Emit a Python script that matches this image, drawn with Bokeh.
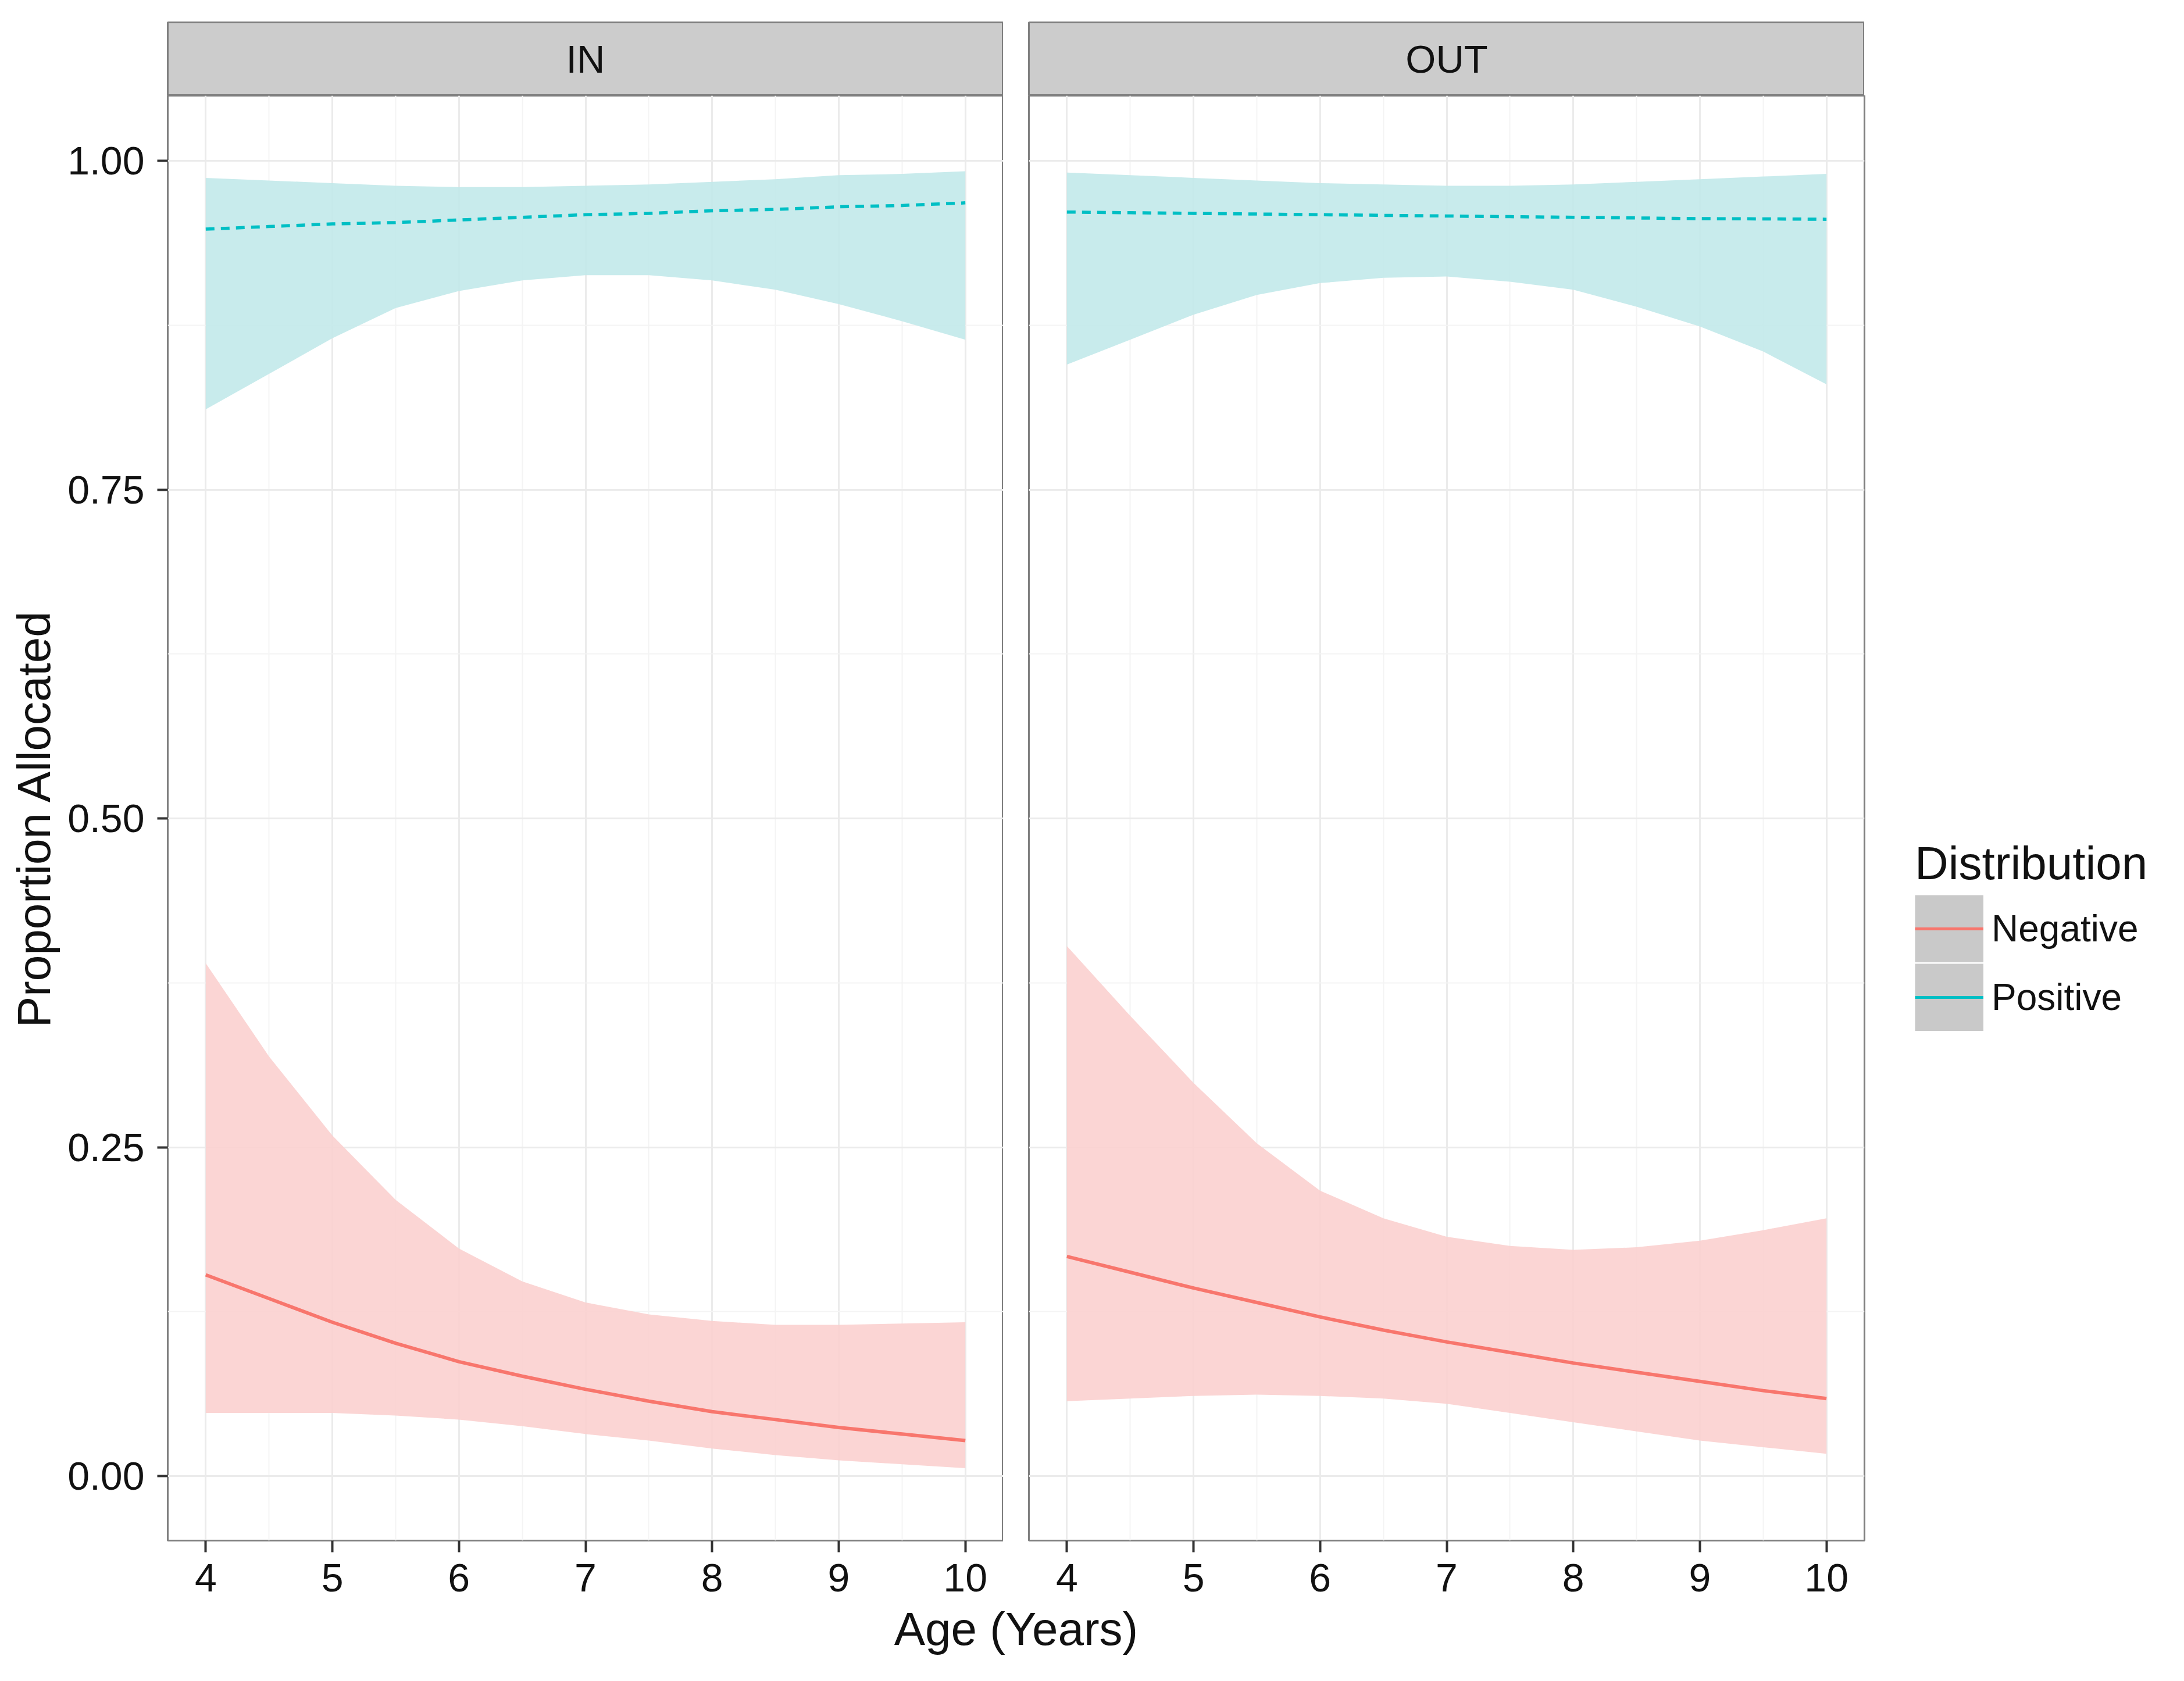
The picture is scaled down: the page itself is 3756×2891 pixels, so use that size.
import numpy as np
from bokeh.plotting import figure
from bokeh.models import (Range1d, FactorRange, FixedTicker, NumeralTickFormatter,
                          Legend, LegendItem, Title, ColumnDataSource)
from bokeh.layouts import row, column
from bokeh.embed import file_html
from bokeh.resources import INLINE
from bokeh.core.properties import value

FONT = "Liberation Sans"

# ---------------- data ----------------
facets = ["IN", "OUT"]
distributions = ["Negative", "Positive"]
age = [4.0, 4.5, 5.0, 5.5, 6.0, 6.5, 7.0, 7.5, 8.0, 8.5, 9.0, 9.5, 10.0]

neg_fit_in = [0.153, 0.135, 0.117, 0.101, 0.087, 0.076, 0.066, 0.057, 0.049, 0.043, 0.037, 0.032, 0.027]
neg_hi_in = [0.390, 0.319, 0.259, 0.210, 0.173, 0.148, 0.132, 0.123, 0.118, 0.115, 0.115, 0.116, 0.117]
neg_lo_in = [0.048, 0.048, 0.048, 0.046, 0.043, 0.038, 0.032, 0.027, 0.021, 0.016, 0.012, 0.009, 0.006]
pos_fit_in = [0.948, 0.950, 0.952, 0.953, 0.955, 0.957, 0.959, 0.960, 0.962, 0.963, 0.965, 0.966, 0.968]
pos_hi_in = [0.987, 0.985, 0.983, 0.981, 0.980, 0.980, 0.981, 0.982, 0.984, 0.986, 0.989, 0.990, 0.992]
pos_lo_in = [0.811, 0.838, 0.865, 0.888, 0.901, 0.909, 0.913, 0.913, 0.909, 0.902, 0.891, 0.878, 0.864]

neg_fit_out = [0.167, 0.155, 0.143, 0.132, 0.121, 0.111, 0.102, 0.094, 0.086, 0.079, 0.072, 0.065, 0.059]
neg_hi_out = [0.403, 0.350, 0.299, 0.253, 0.217, 0.196, 0.182, 0.175, 0.172, 0.174, 0.179, 0.187, 0.196]
neg_lo_out = [0.057, 0.059, 0.061, 0.062, 0.061, 0.059, 0.055, 0.048, 0.041, 0.034, 0.027, 0.022, 0.017]
pos_fit_out = [0.961, 0.9605, 0.960, 0.9595, 0.959, 0.9585, 0.958, 0.9575, 0.957, 0.9565, 0.956, 0.9558, 0.9555]
pos_hi_out = [0.991, 0.989, 0.987, 0.985, 0.983, 0.982, 0.981, 0.981, 0.982, 0.984, 0.986, 0.988, 0.990]
pos_lo_out = [0.845, 0.864, 0.883, 0.898, 0.907, 0.911, 0.912, 0.908, 0.902, 0.889, 0.874, 0.855, 0.830]

x_ticks = [4, 5, 6, 7, 8, 9, 10]
x_minor_ticks = [4.5, 5.5, 6.5, 7.5, 8.5, 9.5]
y_ticks = [0.0, 0.25, 0.5, 0.75, 1.0]
y_minor_ticks = [0.125, 0.375, 0.625, 0.875]

# ---------------- style ----------------
NEG = "#F8766D"
POS = "#00BFC4"
NEG_FILL = "#FBD0CF"
POS_FILL = "#C2E9EA"
BORDER = "#7F7F7F"
STRIP_FILL = "#CCCCCC"
TXT = "#111111"

FRAME_W = 1437
FRAME_H = 2485
STRIP_H = 126
TOP_B = 38
LEFT_B = 288
GAP = 44
RIGHT_B = 520
BOTTOM_B = 105
TICK_FS = "68px"
TITLE_FS = "80px"


def make_strip(name, left_border):
    s = figure(frame_width=FRAME_W, frame_height=STRIP_H,
               x_range=FactorRange(factors=[name]), y_range=FactorRange(factors=[name]),
               x_axis_location=None, y_axis_location=None,
               toolbar_location=None, output_backend="svg",
               min_border_left=left_border, min_border_right=0,
               min_border_top=TOP_B, min_border_bottom=0,
               background_fill_color=STRIP_FILL, border_fill_color="white",
               outline_line_color=BORDER, outline_line_width=3)
    s.grid.visible = False
    src = ColumnDataSource(dict(facet=[name]))
    s.text(x="facet", y="facet", text="facet", source=src,
           text_font=value(FONT), text_font_size="67px",
           text_align="center", text_baseline="middle", text_color=TXT)
    return s


def make_panel(first, neg_fit, neg_lo, neg_hi, pos_fit, pos_lo, pos_hi):
    p = figure(frame_width=FRAME_W, frame_height=FRAME_H,
               x_range=Range1d(3.7, 10.3), y_range=Range1d(-0.049, 1.0495),
               toolbar_location=None, output_backend="svg",
               y_axis_location="left" if first else None,
               min_border_left=LEFT_B if first else GAP,
               min_border_right=0 if first else RIGHT_B,
               min_border_top=0, min_border_bottom=BOTTOM_B,
               background_fill_color="white", border_fill_color="white",
               outline_line_color=BORDER, outline_line_width=3)

    p.xgrid.ticker = FixedTicker(ticks=x_ticks, minor_ticks=x_minor_ticks)
    p.ygrid.ticker = FixedTicker(ticks=y_ticks, minor_ticks=y_minor_ticks)
    for g in (p.xgrid, p.ygrid):
        g.grid_line_color = "#EBEBEB"
        g.grid_line_width = 3
        g.minor_grid_line_color = "#F4F4F4"
        g.minor_grid_line_width = 2

    src = ColumnDataSource(dict(age=age, neg_fit=neg_fit, neg_lo=neg_lo, neg_hi=neg_hi,
                                pos_fit=pos_fit, pos_lo=pos_lo, pos_hi=pos_hi))
    p.varea(x="age", y1="neg_lo", y2="neg_hi", source=src, fill_color=NEG_FILL, fill_alpha=0.9)
    p.varea(x="age", y1="pos_lo", y2="pos_hi", source=src, fill_color=POS_FILL, fill_alpha=0.9)
    p.line(x="age", y="neg_fit", source=src, line_color=NEG, line_width=6)
    p.line(x="age", y="pos_fit", source=src, line_color=POS, line_width=5.5, line_dash="15 11")

    xa = p.xaxis[0]
    xa.ticker = FixedTicker(ticks=x_ticks)
    xa.axis_line_color = None
    xa.major_tick_out = 20
    xa.major_tick_in = 0
    xa.major_tick_line_color = "#333333"
    xa.major_tick_line_width = 4
    xa.minor_tick_line_color = None
    xa.major_label_standoff = 20
    xa.major_label_text_font = FONT
    xa.major_label_text_font_size = TICK_FS
    xa.major_label_text_color = TXT

    if first:
        ya = p.yaxis[0]
        ya.ticker = FixedTicker(ticks=y_ticks)
        ya.formatter = NumeralTickFormatter(format="0.00")
        ya.axis_line_color = None
        ya.major_tick_out = 18
        ya.major_tick_in = 0
        ya.major_tick_line_color = "#333333"
        ya.major_tick_line_width = 4
        ya.minor_tick_line_color = None
        ya.major_label_standoff = 22
        ya.major_label_text_font = FONT
        ya.major_label_text_font_size = TICK_FS
        ya.major_label_text_color = TXT
        ya.axis_label = "Proportion Allocated"
        ya.axis_label_text_font = FONT
        ya.axis_label_text_font_size = TITLE_FS
        ya.axis_label_text_font_style = "normal"
        ya.axis_label_text_color = TXT
        ya.axis_label_standoff = 10
    return p


strip_in = make_strip(facets[0], LEFT_B)
strip_out = make_strip(facets[1], GAP)

p_in = make_panel(True, neg_fit_in, neg_lo_in, neg_hi_in, pos_fit_in, pos_lo_in, pos_hi_in)
p_out = make_panel(False, neg_fit_out, neg_lo_out, neg_hi_out, pos_fit_out, pos_lo_out, pos_hi_out)

# legend (key background + solid line per distribution)
nan = np.array([np.nan])
key_bg = p_out.line(x=nan, y=nan, line_color="#C9C9C9", line_width=116)
key_neg = p_out.line(x=nan, y=nan, line_color=NEG, line_width=5)
key_pos = p_out.line(x=nan, y=nan, line_color=POS, line_width=5)
legend = Legend(
    items=[LegendItem(label=distributions[0], renderers=[key_bg, key_neg]),
           LegendItem(label=distributions[1], renderers=[key_bg, key_pos])],
    location=(87, 876), title="Distribution",
    title_text_font=FONT, title_text_font_size=TITLE_FS, title_text_font_style="normal",
    title_text_color=TXT, title_standoff=8,
    label_text_font=FONT, label_text_font_size="64px", label_text_color=TXT,
    glyph_width=118, glyph_height=116, spacing=2, label_standoff=14,
    padding=0, margin=0, border_line_color=None, background_fill_alpha=0,
)
p_out.add_layout(legend, "right")

# shared x-axis title
xt = figure(frame_width=2 * FRAME_W + GAP, frame_height=1,
            x_range=Range1d(0, 1), y_range=Range1d(0, 1),
            x_axis_location=None, y_axis_location=None,
            toolbar_location=None, output_backend="svg",
            min_border_left=LEFT_B, min_border_right=0, min_border_top=0, min_border_bottom=0,
            outline_line_color=None, border_fill_color="white")
xt.grid.visible = False
xt.add_layout(Title(text="Age (Years)", align="center", text_font=FONT,
                    text_font_size=TITLE_FS, text_font_style="normal",
                    text_color=TXT, standoff=0, offset=0), "above")

layout = column(row(strip_in, strip_out), row(p_in, p_out), xt)

open("out.html", "w").write(file_html(layout, INLINE))
